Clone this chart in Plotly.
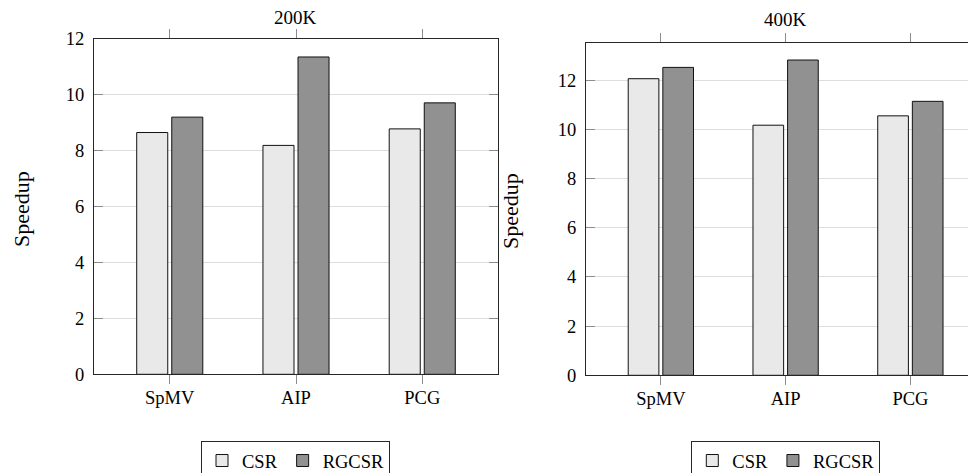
import plotly.graph_objects as go

categories = ["SpMV", "AIP", "PCG"]
series_names = ["CSR", "RGCSR"]
csr_200k = [8.64, 8.18, 8.77]
rgcsr_200k = [9.19, 11.34, 9.70]
csr_400k = [12.06, 10.17, 10.55]
rgcsr_400k = [12.52, 12.82, 11.14]
panel_titles = ["200K", "400K"]
y_title = "Speedup"
yticks_200k = [0, 2, 4, 6, 8, 10, 12]
yticks_400k = [0, 2, 4, 6, 8, 10, 12]

# page is 976x473; the body has a default 8px margin, so the figure is offset by 8px
OFF = 8
W, H = 976 - OFF, 473 - OFF
FONT = "Liberation Serif"
FS = 18.5
fill_colors = ["#e9e9e9", "#919191"]
frame_col = "#262626"
tick_col = "#8c8c8c"
grid_col = "#dddddd"

fig = go.Figure()

for name, vals, col in zip(series_names, [csr_200k, rgcsr_200k], fill_colors):
    fig.add_trace(go.Bar(x=categories, y=vals, name=name,
                         marker=dict(color=col, line=dict(color="#111111", width=1)),
                         xaxis="x", yaxis="y", legend="legend", offsetgroup=name))
for name, vals, col in zip(series_names, [csr_400k, rgcsr_400k], fill_colors):
    fig.add_trace(go.Bar(x=categories, y=vals, name=name,
                         marker=dict(color=col, line=dict(color="#111111", width=1)),
                         xaxis="x2", yaxis="y2", legend="legend2", offsetgroup=name))


def px_x(v):
    return (v - OFF) / W


def px_y(v):
    return 1 - (v - OFF) / H


xcommon = dict(type="category", showline=True, linecolor=frame_col, linewidth=1, mirror="ticks",
               ticks="outside", ticklen=9, tickcolor=tick_col, tickwidth=1, showgrid=False,
               tickfont=dict(family=FONT, size=FS, color="black"), zeroline=False,
               ticklabelstandoff=-3, fixedrange=True, automargin=False)
ycommon = dict(showline=True, linecolor=frame_col, linewidth=1, ticks="inside", ticklen=9,
               tickcolor=tick_col, tickwidth=1, showgrid=True, gridcolor=grid_col, gridwidth=1,
               zeroline=False, tickfont=dict(family=FONT, size=FS, color="black"),
               ticklabelstandoff=5, fixedrange=True, automargin=False)

legend_common = dict(orientation="h", xanchor="center", yanchor="top",
                     bordercolor=frame_col, borderwidth=1, bgcolor="white", itemwidth=30,
                     font=dict(family=FONT, size=FS, color="black"), traceorder="normal",
                     itemclick=False, itemdoubleclick=False)

fig.update_layout(
    width=W, height=H, autosize=False,
    margin=dict(l=0, r=0, t=0, b=0, pad=0, autoexpand=False),
    paper_bgcolor="white", plot_bgcolor="white",
    barmode="group", bargap=0.445, bargroupgap=0.114,
    font=dict(family=FONT, size=FS, color="black"),
    xaxis=dict(domain=[px_x(94), px_x(498)], range=[-0.6, 2.6], anchor="y", **xcommon),
    yaxis=dict(domain=[px_y(374.3), px_y(38.5)], range=[0, 12], tickvals=yticks_200k,
               anchor="x", mirror="ticks", **ycommon),
    xaxis2=dict(domain=[px_x(586), 1.0], range=[-0.6, 2.526], anchor="y2", **xcommon),
    yaxis2=dict(domain=[px_y(375.3), px_y(43.3)], range=[0, 13.5], tickvals=yticks_400k,
                anchor="x2", mirror=False, **ycommon),
    legend=dict(x=px_x(295.5), y=px_y(441), **legend_common),
    legend2=dict(x=px_x(785.8), y=px_y(441), **legend_common),
    annotations=[
        dict(text=panel_titles[0], x=px_x(295.5), y=px_y(17), xref="paper", yref="paper",
             xanchor="center", yanchor="middle", showarrow=False,
             font=dict(family=FONT, size=19)),
        dict(text=panel_titles[1], x=px_x(785.5), y=px_y(20), xref="paper", yref="paper",
             xanchor="center", yanchor="middle", showarrow=False,
             font=dict(family=FONT, size=19)),
        dict(text=y_title, x=px_x(21), y=px_y(209), xref="paper", yref="paper", textangle=-90,
             xanchor="center", yanchor="middle", showarrow=False,
             font=dict(family=FONT, size=22)),
        dict(text=y_title, x=px_x(511), y=px_y(211), xref="paper", yref="paper", textangle=-90,
             xanchor="center", yanchor="middle", showarrow=False,
             font=dict(family=FONT, size=22)),
    ],
)

fig.write_html("out.html", config={"displayModeBar": False})
